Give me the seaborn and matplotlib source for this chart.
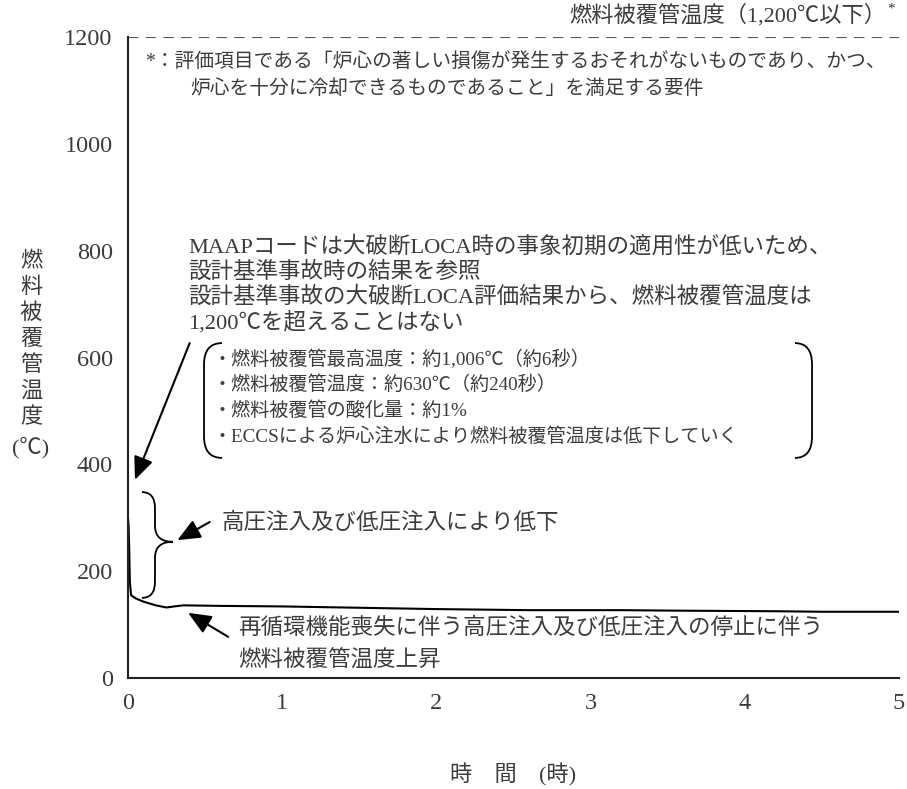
import matplotlib
matplotlib.use("Agg")
import matplotlib.pyplot as plt
from matplotlib.path import Path
from matplotlib.patches import PathPatch
import seaborn as sns

# cladding temperature (deg C) vs time (h)
time_h = [0.0, 0.004, 0.008, 0.012, 0.02, 0.05, 0.1, 0.18, 0.25, 0.3, 0.36,
          0.6, 1.0, 1.6, 2.0, 2.6, 3.2, 3.6, 4.2, 4.5, 5.0]
clad_temp = [300, 285, 240, 180, 155, 149, 143, 136, 132, 134, 136,
             135, 134, 131, 129, 127, 127, 126, 125, 124, 124]

limit_temp = 1200
x_ticks = [0, 1, 2, 3, 4, 5]
y_ticks = [0, 200, 400, 600, 800, 1000, 1200]

limit_label = "燃料被覆管温度（1,200℃以下）"
note_lines = ["*：評価項目である「炉心の著しい損傷が発生するおそれがないものであり、かつ、",
              "炉心を十分に冷却できるものであること」を満足する要件"]
maap_lines = ["MAAPコードは大破断LOCA時の事象初期の適用性が低いため、",
              "設計基準事故時の結果を参照",
              "設計基準事故の大破断LOCA評価結果から、燃料被覆管温度は",
              "1,200℃を超えることはない"]
bullet_lines = ["・燃料被覆管最高温度：約1,006℃（約6秒）",
                "・燃料被覆管温度：約630℃（約240秒）",
                "・燃料被覆管の酸化量：約1%",
                "・ECCSによる炉心注水により燃料被覆管温度は低下していく"]
inject_label = "高圧注入及び低圧注入により低下"
recirc_lines = ["再循環機能喪失に伴う高圧注入及び低圧注入の停止に伴う",
                "燃料被覆管温度上昇"]
ylabel_chars = list("燃料被覆管温度")
ylabel_unit = "(℃)"
xlabel = "時　間　(時)"

sns.set_theme(style="white")
plt.rcParams["font.family"] = ["Liberation Serif", "Noto Sans CJK JP"]
plt.rcParams["axes.unicode_minus"] = False

W, H = 907, 789
TXT = "#3c3c3c"

fig = plt.figure(figsize=(W / 100, H / 100), dpi=100)
ax = fig.add_axes([128 / W, 1 - 678 / H, (899 - 128) / W, (678 - 37) / H])


def ftext(px, py, s, size=16, ha="left", **kw):
    # place text by pixel position measured from the top-left corner
    fig.text(px / W, 1 - py / H, s, fontsize=size, ha=ha, va="center",
             color=TXT, **kw)


sns.lineplot(x=time_h, y=clad_temp, ax=ax, color="black", lw=1.5)
ax.axhline(limit_temp, color="#555555", lw=1.5, ls=(0, (5, 3.5)))

ax.set_xlim(0, 5)
ax.set_ylim(0, 1200)
ax.set_xticks(x_ticks)
ax.set_yticks(y_ticks)
ax.tick_params(direction="in", length=12, width=1.2, colors="#222222",
               labelsize=17.5, labelcolor=TXT)
ax.tick_params(axis="y", pad=11)
ax.tick_params(axis="x", pad=11)
for side in ["top", "right"]:
    ax.spines[side].set_visible(False)
for side in ["left", "bottom"]:
    ax.spines[side].set_color("#222222")
    ax.spines[side].set_linewidth(1.5)
ax.set_xlabel("")
ax.set_ylabel("")

# texts
ftext(886, 15, limit_label, size=16, ha="right")
ftext(887, 9, "*", size=11)
ftext(145, 62, note_lines[0], size=14.2)
ftext(190, 90, note_lines[1], size=14.2)
for i, s in enumerate(maap_lines):
    ftext(188, 247 + 25 * i, s, size=16.2)
for i, s in enumerate(bullet_lines):
    ftext(212, 359 + 26 * i, s, size=13.8)
ftext(222, 523, inject_label, size=16.2)
ftext(238, 628, recirc_lines[0], size=16.2)
ftext(238, 660, recirc_lines[1], size=16.2)
for i, ch in enumerate(ylabel_chars):
    ftext(31, 262 + 26 * i, ch, size=16, ha="center")
ftext(31, 448, ylabel_unit, size=16, ha="center")
ftext(513, 775, xlabel, size=16, ha="center")

# arrows
arrow = dict(arrowstyle="-|>,head_length=0.7,head_width=0.3", color="black",
             lw=1.5, shrinkA=0, shrinkB=0, mutation_scale=20)
ax.annotate("", xy=(0.045, 371), xytext=(0.40, 627), arrowprops=arrow)
ax.annotate("", xy=(0.32, 258), xytext=(0.53, 292), arrowprops=arrow)
ax.annotate("", xy=(0.39, 122), xytext=(0.65, 77), arrowprops=arrow)


def brace(x_end, x_v, x_tip, y_top, y_mid, y_bot, r):
    verts = [(x_end, y_top), (x_v, y_top), (x_v, y_top - r),
             (x_v, y_mid + r), (x_v, y_mid), (x_tip, y_mid),
             (x_v, y_mid), (x_v, y_mid - r),
             (x_v, y_bot + r), (x_v, y_bot), (x_end, y_bot)]
    codes = [Path.MOVETO, Path.CURVE3, Path.CURVE3,
             Path.LINETO, Path.CURVE3, Path.CURVE3,
             Path.CURVE3, Path.CURVE3,
             Path.LINETO, Path.CURVE3, Path.CURVE3]
    ax.add_patch(PathPatch(Path(verts, codes), fc="none", ec="black", lw=1.3,
                           clip_on=False))


def paren(x_end, x_v, y_top, y_bot, r):
    verts = [(x_end, y_top), (x_v, y_top), (x_v, y_top - r),
             (x_v, y_bot + r), (x_v, y_bot), (x_end, y_bot)]
    codes = [Path.MOVETO, Path.CURVE3, Path.CURVE3,
             Path.LINETO, Path.CURVE3, Path.CURVE3]
    ax.add_patch(PathPatch(Path(verts, codes), fc="none", ec="black", lw=1.3,
                           clip_on=False))


brace(0.09, 0.175, 0.29, 348, 255, 150, 30)
paren(0.61, 0.493, 627, 412, 40)
paren(4.325, 4.436, 627, 412, 40)

fig.savefig("out.png", dpi=100)
